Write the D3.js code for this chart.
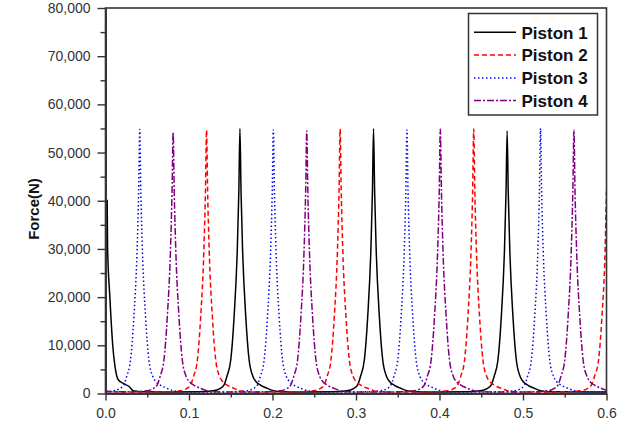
<!DOCTYPE html>
<html lang="en">
<head>
<meta charset="UTF-8">
<title>Force(N)</title>
<script src="https://d3js.org/d3.v7.min.js"></script>
<style>
    body { margin: 0; background: #fff; }
    svg { display: block; font-family: "Liberation Sans", Arial, sans-serif; }
</style>
</head>
<body>
<svg width="617" height="438"></svg>
<script>
// values: [time, force]
const piston1 = [
    [0.002,40200],[0.0025,30200],[0.0052,20100],[0.0088,9700],[0.0114,5560],[0.0154,2800],[0.0214,2100],[0.0286,1400],[0.033,600],[0.045,350],[0.08,300],
    [0.111,350],[0.129,550],[0.137,1000],[0.142,1800],[0.1453,3490],[0.15,6950],[0.154,15900],[0.1578,29700],[0.1597,42000],[0.161,55000],[0.1623,42000],[0.1642,29700],[0.168,15900],[0.172,6950],[0.1767,3490],[0.1804,2450],[0.186,1700],[0.1936,1080],[0.201,600],[0.211,350],[0.24,300],
    [0.271,350],[0.289,550],[0.297,1000],[0.302,1800],[0.3053,3490],[0.31,6950],[0.314,15900],[0.3178,29700],[0.3197,42000],[0.321,55000],[0.3223,42000],[0.3242,29700],[0.328,15900],[0.332,6950],[0.3367,3490],[0.3404,2450],[0.346,1700],[0.3536,1080],[0.361,600],[0.371,350],[0.40,300],
    [0.431,350],[0.449,550],[0.457,1000],[0.462,1800],[0.4653,3490],[0.47,6950],[0.474,15900],[0.4778,29700],[0.4797,42000],[0.481,54500],[0.4823,42000],[0.4842,29700],[0.488,15900],[0.492,6950],[0.4967,3490],[0.5004,2450],[0.506,1700],[0.5136,1080],[0.521,600],[0.531,350],[0.6,300]
];
const piston2 = [
    [0,500],[0.01,350],[0.04,300],
    [0.071,350],[0.089,550],[0.097,1000],[0.102,1800],[0.1053,3490],[0.11,6950],[0.114,15900],[0.1178,29700],[0.1197,42000],[0.121,54700],[0.1223,42000],[0.1242,29700],[0.128,15900],[0.132,6950],[0.1367,3490],[0.1404,2450],[0.146,1700],[0.1536,1080],[0.161,600],[0.171,350],[0.20,300],
    [0.231,350],[0.249,550],[0.257,1000],[0.262,1800],[0.2653,3490],[0.27,6950],[0.274,15900],[0.2778,29700],[0.2797,42000],[0.281,54900],[0.2823,42000],[0.2842,29700],[0.288,15900],[0.292,6950],[0.2967,3490],[0.3004,2450],[0.306,1700],[0.3136,1080],[0.321,600],[0.331,350],[0.36,300],
    [0.391,350],[0.409,550],[0.417,1000],[0.422,1800],[0.4253,3490],[0.43,6950],[0.434,15900],[0.4378,29700],[0.4397,42000],[0.441,54900],[0.4423,42000],[0.4442,29700],[0.448,15900],[0.452,6950],[0.4567,3490],[0.4604,2450],[0.466,1700],[0.4736,1080],[0.481,600],[0.491,350],[0.52,300],
    [0.551,350],[0.569,550],[0.577,1000],[0.582,1800],[0.5855,3490],[0.5905,6950],[0.5945,15900],[0.5983,29700],[0.6,42600]
];
const piston3 = [
    [0,400],[0.009,550],[0.017,1000],[0.022,1800],[0.0253,3490],[0.03,6950],[0.034,15900],[0.0378,29700],[0.0397,42000],[0.041,54800],[0.0423,42000],[0.0442,29700],[0.048,15900],[0.052,6950],[0.0567,3490],[0.0604,2450],[0.066,1700],[0.0736,1080],[0.081,600],[0.091,350],[0.12,300],
    [0.151,350],[0.169,550],[0.177,1000],[0.182,1800],[0.1853,3490],[0.19,6950],[0.194,15900],[0.1978,29700],[0.1997,42000],[0.201,54700],[0.2023,42000],[0.2042,29700],[0.208,15900],[0.212,6950],[0.2167,3490],[0.2204,2450],[0.226,1700],[0.2336,1080],[0.241,600],[0.251,350],[0.28,300],
    [0.311,350],[0.329,550],[0.337,1000],[0.342,1800],[0.3453,3490],[0.35,6950],[0.354,15900],[0.3578,29700],[0.3597,42000],[0.361,54700],[0.3623,42000],[0.3642,29700],[0.368,15900],[0.372,6950],[0.3767,3490],[0.3804,2450],[0.386,1700],[0.3936,1080],[0.401,600],[0.411,350],[0.44,300],
    [0.471,350],[0.489,550],[0.497,1000],[0.502,1800],[0.5053,3490],[0.51,6950],[0.514,15900],[0.5178,29700],[0.5197,42000],[0.521,55000],[0.5223,42000],[0.5242,29700],[0.528,15900],[0.532,6950],[0.5367,3490],[0.5404,2450],[0.546,1700],[0.5536,1080],[0.561,600],[0.571,350],[0.6,300]
];
const piston4 = [
    [0,350],[0.031,350],[0.049,550],[0.057,1000],[0.062,1800],[0.0653,3490],[0.07,6950],[0.074,15900],[0.0778,29700],[0.0797,42000],[0.081,54200],[0.0823,42000],[0.0842,29700],[0.088,15900],[0.092,6950],[0.0967,3490],[0.1004,2450],[0.106,1700],[0.1136,1080],[0.121,600],[0.131,350],[0.16,300],
    [0.191,350],[0.209,550],[0.217,1000],[0.222,1800],[0.2253,3490],[0.23,6950],[0.234,15900],[0.2378,29700],[0.2397,42000],[0.241,54500],[0.2423,42000],[0.2442,29700],[0.248,15900],[0.252,6950],[0.2567,3490],[0.2604,2450],[0.266,1700],[0.2736,1080],[0.281,600],[0.291,350],[0.32,300],
    [0.351,350],[0.369,550],[0.377,1000],[0.382,1800],[0.3853,3490],[0.39,6950],[0.394,15900],[0.3978,29700],[0.3997,42000],[0.401,54900],[0.4023,42000],[0.4042,29700],[0.408,15900],[0.412,6950],[0.4167,3490],[0.4204,2450],[0.426,1700],[0.4336,1080],[0.441,600],[0.451,350],[0.48,300],
    [0.511,350],[0.529,550],[0.537,1000],[0.542,1800],[0.5453,3490],[0.55,6950],[0.554,15900],[0.5578,29700],[0.5597,42000],[0.561,54700],[0.5623,42000],[0.5642,29700],[0.568,15900],[0.572,6950],[0.5767,3490],[0.5804,2450],[0.586,1700],[0.5936,1080],[0.6,650]
];

const seriesNames = ["Piston 1", "Piston 2", "Piston 3", "Piston 4"];
const xTicks = [0, 0.1, 0.2, 0.3, 0.4, 0.5, 0.6];
const xMinor = [0.05, 0.15, 0.25, 0.35, 0.45, 0.55];
const yTicks = [0, 10000, 20000, 30000, 40000, 50000, 60000, 70000, 80000];
const yMinor = [5000, 15000, 25000, 35000, 45000, 55000, 65000, 75000];

const styles = [
    { color: "#000000", dash: null },
    { color: "#ff0000", dash: "5,3" },
    { color: "#0000ff", dash: "1.5,2.5" },
    { color: "#800080", dash: "7,2,2,2" }
];

const L = 105.5, R = 606.5, T = 8, B = 393.5;
const svg = d3.select("svg");

const x = d3.scaleLinear().domain([0, 0.6]).range([L, R]);
const y = d3.scaleLinear().domain([0, 80000]).range([B, T]);

svg.append("clipPath").attr("id", "plotclip")
    .append("rect").attr("x", L).attr("y", T).attr("width", R - L).attr("height", B - T);

const line = d3.line()
    .x(function(d) { return x(d[0]); })
    .y(function(d) { return y(d[1]); })
    .curve(d3.curveMonotoneX);

const allData = [piston1, piston2, piston3, piston4];
const plot = svg.append("g").attr("clip-path", "url(#plotclip)");
allData.forEach(function(s, i) {
    plot.append("path")
        .datum(s)
        .attr("d", line)
        .attr("fill", "none")
        .attr("stroke", styles[i].color)
        .attr("stroke-width", 1.5)
        .attr("stroke-dasharray", styles[i].dash);
});

// frame
svg.append("rect")
    .attr("x", L).attr("y", T).attr("width", R - L).attr("height", B - T)
    .attr("fill", "none").attr("stroke", "#333").attr("stroke-width", 1.6);

// axes
const xAxis = svg.append("g").attr("transform", "translate(0," + B + ")")
    .call(d3.axisBottom(x).tickValues(xTicks).tickFormat(d3.format(".1f")).tickSize(7).tickSizeOuter(0).tickPadding(8));
const xAxisMinor = svg.append("g").attr("transform", "translate(0," + B + ")")
    .call(d3.axisBottom(x).tickValues(xMinor).tickFormat("").tickSize(4).tickSizeOuter(0));
const yAxis = svg.append("g").attr("transform", "translate(" + L + ",0)")
    .call(d3.axisLeft(y).tickValues(yTicks).tickFormat(d3.format(",")).tickSize(8).tickSizeOuter(0).tickPadding(7));
const yAxisMinor = svg.append("g").attr("transform", "translate(" + L + ",0)")
    .call(d3.axisLeft(y).tickValues(yMinor).tickFormat("").tickSize(5).tickSizeOuter(0));

[xAxis, xAxisMinor, yAxis, yAxisMinor].forEach(function(g) {
    g.select(".domain").attr("stroke", "#333").attr("stroke-width", 1.6);
    g.selectAll(".tick line").attr("stroke", "#333").attr("stroke-width", 1.4);
    g.selectAll(".tick text").attr("fill", "#333").style("font-size", "14px")
        .style("font-family", "'Liberation Sans', Arial, sans-serif");
});

svg.append("text")
    .attr("transform", "translate(38.5,209) rotate(-90)")
    .attr("text-anchor", "middle")
    .style("font-size", "15px")
    .style("font-weight", "bold")
    .attr("fill", "#111")
    .text("Force(N)");

// legend
const legend = svg.append("g");
legend.append("rect")
    .attr("x", 468.5).attr("y", 13.5).attr("width", 129).attr("height", 101.5)
    .attr("fill", "#fff").attr("stroke", "#333").attr("stroke-width", 1.5);
const rowY = [32.3, 55, 78, 100.5];
seriesNames.forEach(function(name, i) {
    legend.append("line")
        .attr("x1", 474).attr("x2", 516)
        .attr("y1", rowY[i]).attr("y2", rowY[i])
        .attr("stroke", styles[i].color)
        .attr("stroke-width", 1.5)
        .attr("stroke-dasharray", styles[i].dash);
    legend.append("text")
        .attr("x", 521.5).attr("y", rowY[i] + 6.2)
        .style("font-size", "17px")
        .style("font-weight", "bold")
        .attr("fill", "#111")
        .text(name);
});
</script>
</body>
</html>
